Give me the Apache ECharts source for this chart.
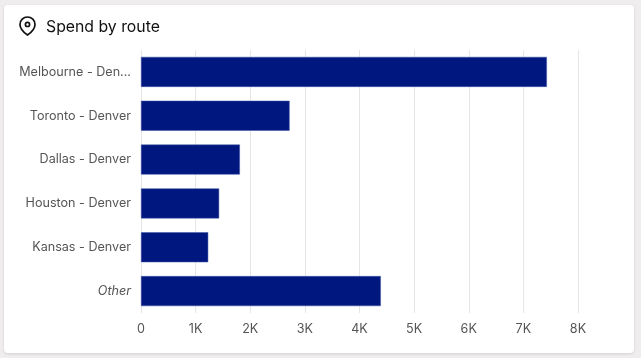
<!DOCTYPE html>
<html><head><meta charset="utf-8">
<style>
html,body{margin:0;padding:0;background:#efeded;width:641px;height:358px;overflow:hidden}
#card{position:absolute;left:4px;top:5px;width:630px;height:348px;background:#fff;border-radius:4px;box-shadow:0 1px 3px rgba(0,0,0,.12)}
#c{position:absolute;left:0;top:0;width:641px;height:358px}
#pin{position:absolute;left:18px;top:15px}
</style>
<script src="https://cdn.jsdelivr.net/npm/echarts@6/dist/echarts.min.js"></script>
</head><body><div id="card"></div><div id="c"></div>
<svg id="pin" width="19" height="22" viewBox="0 0 19 22"><path d="M9.5 2C5.4 2 2 5.3 2 9.4c0 4.9 5.2 9 7.5 10.6C11.8 18.4 17 14.3 17 9.4 17 5.3 13.6 2 9.5 2z" fill="none" stroke="#111" stroke-width="1.7"/><circle cx="9.5" cy="9.4" r="2.1" fill="none" stroke="#111" stroke-width="1.7"/></svg>
<script>
const titleText = 'Spend by route';
const categories = ['Melbourne - Denver','Toronto - Denver','Dallas - Denver','Houston - Denver','Kansas - Denver','Other'];
const values = [7430,2720,1810,1430,1230,4390];
const tickMax = 8000;
const tickStep = 1000;
const chart = echarts.init(document.getElementById('c'),null,{renderer:'canvas'});
chart.setOption({
  animation:false,
  backgroundColor:'transparent',
  title:{text:titleText,left:41,top:14,textStyle:{fontFamily:'Inter',fontSize:15.8,fontWeight:400,color:'#111'}},
  grid:{left:141,right:63,top:50,bottom:45},
  xAxis:{type:'value',min:0,max:tickMax,interval:tickStep,
    axisLine:{show:false},axisTick:{show:false},
    splitLine:{lineStyle:{color:'#e6e6e6',width:1}},
    axisLabel:{margin:10,fontFamily:'Inter',fontSize:12.6,color:'#555',
      formatter:v=>v===0?'0':(v/1000)+'K'}},
  yAxis:{type:'category',inverse:true,data:categories,
    axisLine:{show:false},axisTick:{show:false},
    axisLabel:{margin:10,fontFamily:'Inter',fontSize:12.6,color:'#555',
      formatter:v=>{
        if(v==='Other')return '{o|Other}';
        return v.length>16?v.slice(0,15)+'...':v;
      },
      rich:{o:{fontFamily:'Inter',fontSize:12.6,fontStyle:'italic',color:'#555'}}}},
  series:[{type:'bar',data:values,barWidth:30,
    itemStyle:{color:'#00177f',borderColor:'#3f55a6',borderWidth:0.5}}]
});
</script></body></html>
